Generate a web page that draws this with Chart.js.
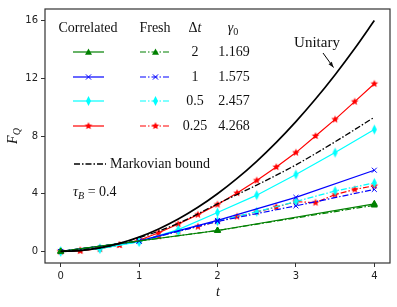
<!DOCTYPE html>
<html>
<head>
<meta charset="UTF-8">
<script src="https://cdn.jsdelivr.net/npm/chart.js"></script>
<style>
  html, body { margin: 0; padding: 0; background: #fff; }
  #wrap { width: 397px; height: 307px; }
</style>
</head>
<body>
<div id="wrap"><canvas id="c" width="397" height="307"></canvas></div>
<script>
// --- data ---
const tUnitary = [0, 0.25, 0.5, 0.75, 1, 1.25, 1.5, 1.75, 2, 2.25, 2.5, 2.75, 3, 3.25, 3.5, 3.75, 4];
const unitary  = [0, 0.0625, 0.25, 0.5625, 1, 1.5625, 2.25, 3.0625, 4, 5.0625, 6.25, 7.5625, 9, 10.5625, 12.25, 14.0625, 16];

const tMarkov = [0, 0.5, 1, 1.5, 2, 2.5, 3, 3.5, 4];
const markov  = [0, 0.25, 0.95, 1.95, 3.3, 4.6, 6.0, 7.6, 9.3];

const tDt2 = [0, 2, 4];
const corrDt2  = [0, 1.45, 3.3];
const freshDt2 = [0, 1.45, 3.2];

const tDt1 = [0, 1, 2, 3, 4];
const corrDt1  = [0, 0.72, 2.15, 3.75, 5.63];
const freshDt1 = [0, 0.72, 2.08, 3.16, 4.3];

const tDt05 = [0, 0.5, 1, 1.5, 2, 2.5, 3, 3.5, 4];
const corrDt05  = [0, 0.2, 0.68, 1.51, 2.7, 3.9, 5.33, 6.85, 8.45];
const freshDt05 = [0, 0.2, 0.68, 1.4, 2.1, 2.75, 3.46, 4.19, 4.75];

const tDt025 = [0, 0.25, 0.5, 0.75, 1, 1.25, 1.5, 1.75, 2, 2.25, 2.5, 2.75, 3, 3.25, 3.5, 3.75, 4];
const corrDt025  = [0, 0.06, 0.2, 0.45, 0.78, 1.3, 1.9, 2.55, 3.25, 4.05, 4.92, 5.85, 6.85, 8.0, 9.15, 10.38, 11.62];
const freshDt025 = [0, 0.06, 0.2, 0.45, 0.78, 1.05, 1.39, 1.72, 2.08, 2.42, 2.74, 3.08, 3.45, 3.38, 3.94, 4.3, 4.55];

const dtLabels    = ['2', '1', '0.5', '0.25'];
const gamma0      = ['1.169', '1.575', '2.457', '4.268'];
const xTicks = [0, 1, 2, 3, 4];
const yTicks = [0, 4, 8, 12, 16];

const GREEN = '#008000', BLUE = '#0000ff', CYAN = '#00ffff', RED = '#ff0000';
const DASHDOT = [6, 2, 1.5, 2];
const SERIF = '"Liberation Serif", "DejaVu Serif", serif';

// custom marker images
function starImg(color, r) {
  const c = document.createElement('canvas');
  c.width = c.height = Math.ceil(2 * r + 2);
  const g = c.getContext('2d');
  const cx = c.width / 2, cy = c.height / 2;
  g.beginPath();
  for (let i = 0; i < 10; i++) {
    const a = -Math.PI / 2 + i * Math.PI / 5;
    const rr = i % 2 ? r * 0.45 : r;
    g.lineTo(cx + rr * Math.cos(a), cy + rr * Math.sin(a));
  }
  g.closePath();
  g.fillStyle = color;
  g.fill();
  return c;
}
function thinDiamondImg(color, w, h) {
  const c = document.createElement('canvas');
  c.width = w + 2; c.height = h + 2;
  const g = c.getContext('2d');
  const cx = c.width / 2, cy = c.height / 2;
  g.beginPath();
  g.moveTo(cx, cy - h / 2); g.lineTo(cx + w / 2, cy);
  g.lineTo(cx, cy + h / 2); g.lineTo(cx - w / 2, cy);
  g.closePath();
  g.fillStyle = color;
  g.fill();
  return c;
}
const starMarker = starImg(RED, 4);
const diamondMarker = thinDiamondImg(CYAN, 5, 10);

function pts(xs, ys) { return xs.map((x, i) => ({ x: x, y: ys[i] })); }

function series(xs, ys, color, style, dashed, radius) {
  return {
    data: pts(xs, ys),
    borderColor: color,
    backgroundColor: color,
    borderWidth: 1.2,
    borderDash: dashed ? DASHDOT : [],
    pointStyle: style,
    pointRadius: radius,
    pointBorderWidth: 1,
    pointHoverRadius: radius,
    tension: 0
  };
}

const datasets = [
  { data: pts(tUnitary, unitary), borderColor: '#000', borderWidth: 1.7, pointRadius: 0,
    cubicInterpolationMode: 'monotone' },
  { data: pts(tMarkov, markov), borderColor: '#000', borderWidth: 1.3, borderDash: DASHDOT,
    pointRadius: 0, cubicInterpolationMode: 'monotone' },
  series(tDt2, corrDt2, GREEN, 'triangle', false, 3.5),
  series(tDt2, freshDt2, GREEN, 'triangle', true, 3.5),
  series(tDt1, corrDt1, BLUE, 'crossRot', false, 3.5),
  series(tDt1, freshDt1, BLUE, 'crossRot', true, 3.5),
  series(tDt05, corrDt05, CYAN, diamondMarker, false, 4),
  series(tDt05, freshDt05, CYAN, diamondMarker, true, 4),
  series(tDt025, corrDt025, RED, starMarker, false, 4),
  series(tDt025, freshDt025, RED, starMarker, true, 4)
];

// draw a row of text pieces (italic / subscript)
function drawRuns(ctx, runs, x, y, align, size) {
  const fontOf = r => (r.italic ? 'italic ' : '') + (r.sub ? size * 0.72 : size) + 'px ' + SERIF;
  let total = 0;
  runs.forEach(r => { ctx.font = fontOf(r); total += ctx.measureText(r.text).width; });
  let cx = align === 'center' ? x - total / 2 : (align === 'right' ? x - total : x);
  ctx.textAlign = 'left';
  ctx.textBaseline = 'middle';
  runs.forEach(r => {
    ctx.font = fontOf(r);
    ctx.fillText(r.text, cx, r.sub ? y + size * 0.28 : y);
    cx += ctx.measureText(r.text).width;
  });
}

function drawMarker(ctx, style, color, x, y) {
  ctx.save();
  ctx.setLineDash([]);
  ctx.fillStyle = color; ctx.strokeStyle = color; ctx.lineWidth = 1;
  if (style === 'triangle') {
    const r = 3.5;
    ctx.beginPath();
    ctx.moveTo(x, y - r); ctx.lineTo(x + r, y + r * 0.8); ctx.lineTo(x - r, y + r * 0.8);
    ctx.closePath(); ctx.fill();
  } else if (style === 'cross') {
    const r = 2.6;
    ctx.beginPath();
    ctx.moveTo(x - r, y - r); ctx.lineTo(x + r, y + r);
    ctx.moveTo(x + r, y - r); ctx.lineTo(x - r, y + r);
    ctx.stroke();
  } else {
    ctx.drawImage(style, x - style.width / 2, y - style.height / 2);
  }
  ctx.restore();
}

const overlay = {
  id: 'overlay',
  afterDraw(chart) {
    const ctx = chart.ctx;
    const a = chart.chartArea;
    ctx.save();
    // frame
    ctx.strokeStyle = '#333';
    ctx.lineWidth = 1.2;
    ctx.setLineDash([]);
    ctx.strokeRect(a.left, a.top, a.right - a.left, a.bottom - a.top);

    ctx.fillStyle = '#111';
    // table legend
    const size = 14;
    drawRuns(ctx, [{ text: 'Correlated' }], 88, 28, 'center', size);
    drawRuns(ctx, [{ text: 'Fresh' }], 155, 28, 'center', size);
    drawRuns(ctx, [{ text: 'Δ' }, { text: 't', italic: true }], 195, 28, 'center', size);
    drawRuns(ctx, [{ text: 'γ', italic: true }, { text: '0', sub: true }], 233, 28, 'center', size);

    const rowY = [52, 77, 101, 126];
    const rowColor = [GREEN, BLUE, CYAN, RED];
    const rowMarker = ['triangle', 'cross', diamondMarker, starMarker];
    rowY.forEach((y, i) => {
      ctx.strokeStyle = rowColor[i];
      ctx.lineWidth = 1.2;
      ctx.setLineDash([]);
      ctx.beginPath(); ctx.moveTo(73, y); ctx.lineTo(104, y); ctx.stroke();
      drawMarker(ctx, rowMarker[i], rowColor[i], 88.5, y);
      ctx.setLineDash(DASHDOT);
      ctx.beginPath(); ctx.moveTo(140, y); ctx.lineTo(171, y); ctx.stroke();
      ctx.setLineDash([]);
      drawMarker(ctx, rowMarker[i], rowColor[i], 155.5, y);
      ctx.fillStyle = '#111';
      drawRuns(ctx, [{ text: dtLabels[i] }], 195, y, 'center', size);
      drawRuns(ctx, [{ text: gamma0[i] }], 234, y, 'center', size);
    });

    // Markovian bound entry
    ctx.strokeStyle = '#000';
    ctx.lineWidth = 1.3;
    ctx.setLineDash(DASHDOT);
    ctx.beginPath(); ctx.moveTo(74, 164); ctx.lineTo(106, 164); ctx.stroke();
    ctx.setLineDash([]);
    drawRuns(ctx, [{ text: 'Markovian bound' }], 110, 164, 'left', size);
    drawRuns(ctx, [{ text: 'τ', italic: true }, { text: 'B', italic: true, sub: true }, { text: ' = 0.4' }],
      73, 192, 'left', size);

    // Unitary annotation
    drawRuns(ctx, [{ text: 'Unitary' }], 317, 43, 'center', 15);
    const x0 = 323, y0 = 53, x1 = 333.5, y1 = 67.5;
    ctx.strokeStyle = '#000'; ctx.lineWidth = 1;
    ctx.beginPath(); ctx.moveTo(x0, y0); ctx.lineTo(x1, y1); ctx.stroke();
    const ang = Math.atan2(y1 - y0, x1 - x0);
    ctx.beginPath();
    ctx.moveTo(x1, y1);
    ctx.lineTo(x1 - 6 * Math.cos(ang - 0.35), y1 - 6 * Math.sin(ang - 0.35));
    ctx.lineTo(x1 - 6 * Math.cos(ang + 0.35), y1 - 6 * Math.sin(ang + 0.35));
    ctx.closePath(); ctx.fill();

    // axis titles
    drawRuns(ctx, [{ text: 't', italic: true }], 218, 292, 'center', 14);
    ctx.translate(13, 136);
    ctx.rotate(-Math.PI / 2);
    drawRuns(ctx, [{ text: 'F', italic: true }, { text: 'Q', italic: true, sub: true }], 0, 0, 'center', 14);
    ctx.restore();
  }
};

new Chart(document.getElementById('c'), {
  type: 'line',
  data: { datasets: datasets },
  options: {
    responsive: false,
    animation: false,
    events: [],
    layout: { padding: { left: 0, top: 7, right: 7, bottom: 0 } },
    plugins: { legend: { display: false }, tooltip: { enabled: false } },
    scales: {
      x: {
        type: 'linear', min: -0.2, max: 4.2,
        afterBuildTicks: s => { s.ticks = xTicks.map(v => ({ value: v })); },
        afterFit: s => { s.height = 44; },
        grid: { drawOnChartArea: false, drawTicks: true, tickLength: 4, color: '#333' },
        border: { display: false },
        ticks: { color: '#222', padding: 3, font: { family: '"DejaVu Sans"', size: 10 } }
      },
      y: {
        type: 'linear', min: -0.8, max: 16.8,
        afterBuildTicks: s => { s.ticks = yTicks.map(v => ({ value: v })); },
        afterFit: s => { s.width = 45; },
        grid: { drawOnChartArea: false, drawTicks: true, tickLength: 4, color: '#333' },
        border: { display: false },
        ticks: { color: '#222', padding: 3, font: { family: '"DejaVu Sans"', size: 10 } }
      }
    }
  },
  plugins: [overlay]
});
</script>
</body>
</html>
